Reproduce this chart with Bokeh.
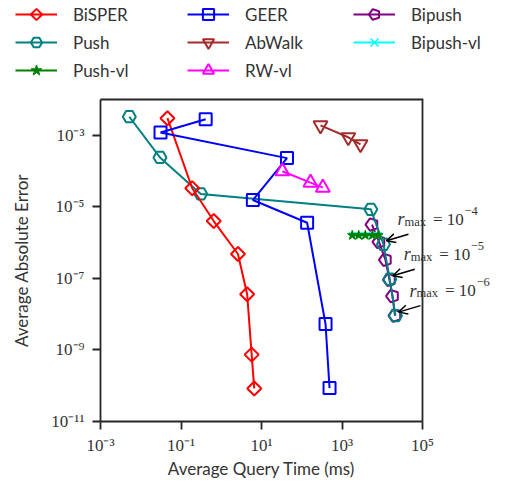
import numpy as np
from bokeh.plotting import figure
from bokeh.models import (Legend, LegendItem, Label, Arrow, OpenHead, FixedTicker,
                          CustomJSTickFormatter, Range1d)
from bokeh.embed import file_html
from bokeh.resources import INLINE

# ---------------- data ----------------
bisper_t = [0.046, 0.19, 0.65, 2.6, 4.4, 5.7, 6.6]
bisper_e = [3.0e-3, 3.3e-5, 4.0e-6, 4.8e-7, 3.6e-8, 7.4e-10, 8.4e-11]

push_t = [5.2e-3, 0.030, 0.31, 5200, 10700, 15400, 21300]
push_e = [3.3e-3, 2.4e-4, 2.3e-5, 8.5e-6, 9.0e-7, 9.5e-8, 9.1e-9]

pushvl_t = [1800, 2600, 3800, 5700, 8000]
pushvl_e = [1.6e-6, 1.6e-6, 1.6e-6, 1.6e-6, 1.6e-6]

geer_t = [0.41, 0.031, 43, 6.1, 136, 390, 490]
geer_e = [2.8e-3, 1.2e-3, 2.3e-4, 1.55e-5, 3.6e-6, 5.3e-9, 8.6e-11]

abwalk_t = [292, 1430, 2880]
abwalk_e = [1.9e-3, 8.8e-4, 5.6e-4]

rwvl_t = [33, 165, 334]
rwvl_e = [9.9e-5, 4.75e-5, 3.45e-5]

bipush_t = [5560, 8300, 12000, 15100, 18000, 20700]
bipush_e = [3.2e-6, 1.05e-6, 3.3e-7, 9.1e-8, 3.2e-8, 9.1e-9]

bipushvl_t = [1800, 2600, 3800, 5700, 8000]
bipushvl_e = [1.6e-6, 1.6e-6, 1.6e-6, 1.6e-6, 1.6e-6]

x_lim = [1e-3, 1e5]
y_lim = [1e-11, 1e-2]
x_ticks = [1e-3, 1e-1, 1e1, 1e3, 1e5]
y_ticks = [1e-11, 1e-9, 1e-7, 1e-5, 1e-3]

annot_idx = [4, 5, 6]          # Push points annotated
annot_exp = ["\u22124", "\u22125", "\u22126"]

# ---------------- layout geometry ----------------
W, H = 505, 485
BOX_L, BOX_T, BOX_B = 100, 99, 421          # axes box position in page pixels
BOX_W = 322
BOX_H = BOX_B - BOX_T                       # 322
px_dec_x = BOX_W / np.log10(x_lim[1] / x_lim[0])
px_dec_y = BOX_H / np.log10(y_lim[1] / y_lim[0])
# the drawing frame covers the whole page; the axes are pinned to the box edges,
# so that the legend, tick labels and annotations outside the box are not clipped
x_start = x_lim[0] / 10 ** (BOX_L / px_dec_x)
x_end = x_lim[0] * 10 ** ((W - BOX_L) / px_dec_x)
y_start = y_lim[0] / 10 ** ((H - BOX_B) / px_dec_y)
y_end = y_lim[1] * 10 ** (BOX_T / px_dec_y)

p = figure(width=W, height=H, x_axis_type="log", y_axis_type="log",
           x_range=Range1d(x_start, x_end), y_range=Range1d(y_start, y_end),
           output_backend="svg", toolbar_location=None,
           min_border_left=0, min_border_right=0,
           min_border_top=0, min_border_bottom=0)
p.xgrid.visible = False
p.ygrid.visible = False
p.outline_line_color = None
p.background_fill_color = "white"
p.border_fill_color = "white"

fmt_code = """
const sup = {'-':'\u207b','0':'\u2070','1':'\u00b9','2':'\u00b2','3':'\u00b3','4':'\u2074',
             '5':'\u2075','6':'\u2076','7':'\u2077','8':'\u2078','9':'\u2079'};
const e = Math.round(Math.log10(tick));
return '10' + String(e).split('').map(c => sup[c]).join('');
"""

AXC = "#262626"
for ax, ticks, lim in ((p.xaxis[0], x_ticks, x_lim), (p.yaxis[0], y_ticks, y_lim)):
    ax.ticker = FixedTicker(ticks=ticks, minor_ticks=[])
    ax.formatter = CustomJSTickFormatter(code=fmt_code)
    ax.bounds = (lim[0], lim[1])
    ax.major_tick_in = 0
    ax.major_tick_out = 8
    ax.minor_tick_in = 0
    ax.minor_tick_out = 0
    ax.major_tick_line_width = 1.8
    ax.major_tick_line_color = AXC
    ax.axis_line_width = 1.8
    ax.axis_line_color = AXC
    ax.major_label_text_font = "Liberation Serif"
    ax.major_label_text_font_size = "17px"
    ax.major_label_text_color = "#333333"
    ax.axis_label_text_font = "Lato"
    ax.axis_label_text_font_size = "17px"
    ax.axis_label_text_font_style = "normal"
    ax.axis_label_text_color = "#333333"

p.yaxis.fixed_location = x_lim[0]
p.xaxis.fixed_location = y_lim[0]
p.xaxis.axis_label = "Average Query Time (ms)"
p.yaxis.axis_label = "Average Absolute Error"
p.xaxis.major_label_standoff = 6
p.xaxis.axis_label_standoff = 0
p.yaxis.major_label_standoff = 8
p.yaxis.axis_label_standoff = 16

# top and right sides of the axes box
p.line([x_lim[0], x_lim[1], x_lim[1]], [y_lim[1], y_lim[1], y_lim[0]],
       line_color=AXC, line_width=1.8, line_join="miter")

LW = 2

def series(t, e, color, marker, size, fill=None, mlw=LW):
    r_line = p.line(t, e, line_color=color, line_width=LW)
    r_mark = p.scatter(t, e, marker=marker, size=size,
                       line_color=color, line_width=mlw,
                       fill_color=fill if fill else "white",
                       fill_alpha=1.0 if fill else 0.0)
    return [r_line, r_mark]

def ngon_series(t, e, color, n, radius, angle):
    r_line = p.line(t, e, line_color=color, line_width=LW)
    r_mark = p.ngon(x=t, y=e, radius=radius, radius_units="screen", n=n, angle=angle,
                    fill_color=None, line_color=color, line_width=LW)
    return [r_line, r_mark]

bipush_r = ngon_series(bipush_t, bipush_e, "purple", 5, 6.5, np.pi / 2)
push_r = ngon_series(push_t, push_e, "teal", 6, 6.5, np.pi / 2)
bipushvl_r = series(bipushvl_t, bipushvl_e, "cyan", "x", 9, mlw=1.5)
pushvl_r = series(pushvl_t, pushvl_e, "green", "star", 10, fill="green", mlw=1)
bisper_r = ngon_series(bisper_t, bisper_e, "red", 4, 7, 0.0)
geer_r = series(geer_t, geer_e, "blue", "square", 12)
abwalk_r = series(abwalk_t, abwalk_e, "brown", "inverted_triangle", 14)
rwvl_r = series(rwvl_t, rwvl_e, "magenta", "triangle", 14)

# ---------------- legend: three columns ----------------
legend_cols = [
    [("BiSPER", bisper_r), ("Push", push_r), ("Push-vl", pushvl_r)],
    [("GEER", geer_r), ("AbWalk", abwalk_r), ("RW-vl", rwvl_r)],
    [("Bipush", bipush_r), ("Bipush-vl", bipushvl_r)],
]
col_left = [15, 187, 353]
ROW_H = 28
for items, cx in zip(legend_cols, col_left):
    lg_h = ROW_H * len(items)
    lg = Legend(items=[LegendItem(label=l, renderers=r) for l, r in items],
                location=(cx, H - lg_h), orientation="vertical",
                glyph_width=42, glyph_height=ROW_H, label_height=ROW_H,
                spacing=0, label_standoff=16, padding=0, margin=0,
                label_text_font="Lato", label_text_font_size="17px",
                label_text_color="#333333",
                border_line_color=None, background_fill_alpha=0.0)
    p.add_layout(lg, "center")

# ---------------- r_max annotations ----------------
for idx, ex in zip(annot_idx, annot_exp):
    x0, y0 = push_t[idx], push_e[idx]
    xs = x0 * 10 ** (25 / px_dec_x)
    ys = y0 * 10 ** (10 / px_dec_y)
    xe = x0 * 10 ** (3 / px_dec_x)
    ye = y0 * 10 ** (3.5 / px_dec_y)
    p.add_layout(Arrow(end=OpenHead(size=9, line_width=1.5, line_color="black"),
                       x_start=xs, y_start=ys, x_end=xe, y_end=ye,
                       line_width=1.5, line_color="black"))
    common = dict(x=x0, y=y0, text_font="Liberation Serif", text_color="#333333",
                  text_baseline="alphabetic", text_align="left")
    p.add_layout(Label(text="r", x_offset=14, y_offset=25, text_font_size="18px",
                       text_font_style="italic", **common))
    p.add_layout(Label(text="max", x_offset=21, y_offset=22.5, text_font_size="12.5px", **common))
    p.add_layout(Label(text="= 10", x_offset=49.5, y_offset=25, text_font_size="17px", **common))
    p.add_layout(Label(text=ex, x_offset=81, y_offset=33.5, text_font_size="12.5px", **common))

open("out.html", "w").write(file_html(p, INLINE))
